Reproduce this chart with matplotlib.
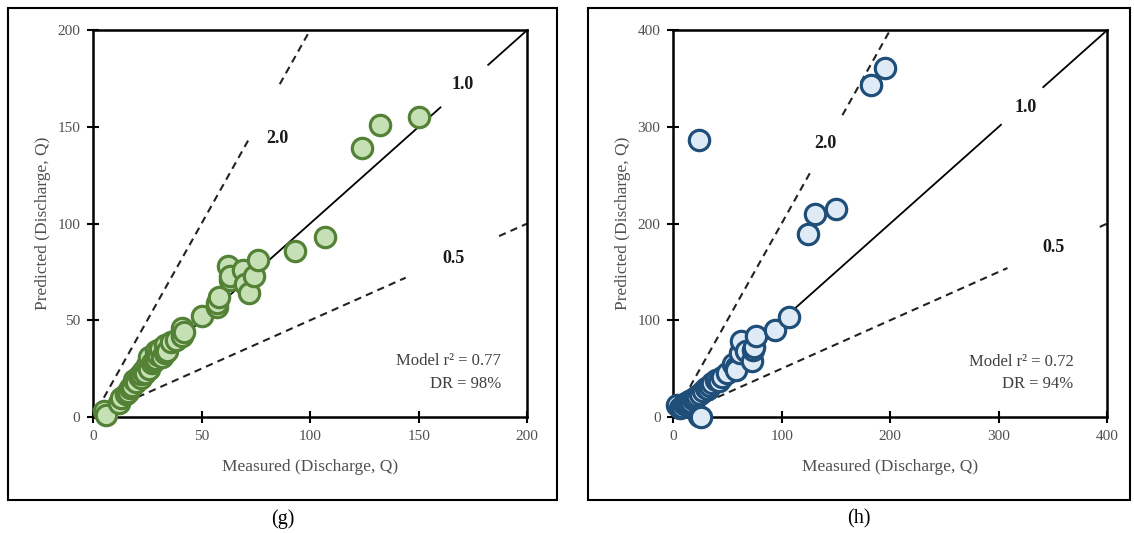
import numpy as np
import matplotlib
matplotlib.use("Agg")
import matplotlib.pyplot as plt
from matplotlib.patches import Rectangle

plt.rcParams['font.family'] = ['Liberation Serif', 'DejaVu Serif']

# panel (g) - measured vs predicted discharge
g_meas = [5, 6, 12, 13, 15, 16, 17, 18, 19, 20, 21, 22, 22, 23, 24, 25, 26, 26, 27, 28,
          29, 29, 30, 31, 32, 33, 33, 34, 36, 38, 41, 41, 42, 50, 57, 57, 58, 62, 63, 63,
          69, 70, 72, 74, 76, 93, 107, 124, 132, 150]
g_pred = [3, 1, 7, 10, 12, 13, 15, 16, 19, 18, 21, 20, 22, 24, 23, 27, 25, 31, 28, 29,
          30, 34, 32, 35, 31, 33, 37, 34, 39, 40, 46, 42, 44, 52, 57, 59, 62, 78, 71, 73,
          76, 69, 64, 73, 81, 86, 93, 139, 151, 155]

# panel (h)
h_meas = [4, 6, 8, 10, 12, 14, 15, 17, 18, 20, 22, 24, 24, 25, 26, 28, 30, 32, 34, 36,
          40, 42, 45, 50, 55, 58, 58, 62, 63, 67, 73, 74, 75, 76, 94, 107, 124, 131, 150,
          182, 195]
h_pred = [12, 9, 10, 13, 14, 15, 17, 16, 19, 20, 22, 286, 1, 24, 0, 27, 30, 29, 32, 35,
          38, 37, 41, 45, 55, 52, 49, 66, 79, 68, 58, 69, 72, 84, 90, 103, 189, 210, 215,
          343, 361]

panels = [
    dict(x=g_meas, y=g_pred, lim=200, ticks=[0, 50, 100, 150, 200],
         face='#c5e0b4', edge='#538135', r2='0.77', dr='98%', cap='(g)',
         one=[(0, 160), (182, 200)], two=[(5, 71.5), (86, 100)], half=[(10, 144), (187, 200)],
         lab_one=(170, 172), lab_two=(85, 144), lab_half=(166, 82), txt=(188, 29, 17)),
    dict(x=h_meas, y=h_pred, lim=400, ticks=[0, 100, 200, 300, 400],
         face='#deebf7', edge='#1f4e79', r2='0.72', dr='94%', cap='(h)',
         one=[(0, 302), (341, 400)], two=[(10, 126), (156, 200)], half=[(20, 308), (393, 400)],
         lab_one=(325, 320), lab_two=(140, 283), lab_half=(350, 175), txt=(369, 57, 34)),
]

fig = plt.figure(figsize=(11.34, 5.33), dpi=100)
lefts = [0.0820, 0.5935]
box_x = [(8, 557), (588, 1130)]
grey = '#505050'

for p, left, bx in zip(panels, lefts, box_x):
    ax = fig.add_axes([left, 0.2176, 0.383, 0.7261])
    ax.set_xlim(0, p['lim'])
    ax.set_ylim(0, p['lim'])

    # ratio lines with gaps for the labels
    for a, b in p['one']:
        ax.plot([a, b], [a, b], color='black', lw=1.3, zorder=1)
    for a, b in p['two']:
        ax.plot([a, b], [2 * a, 2 * b], color='#222222', lw=1.5, ls=(0, (3.5, 2.5)), zorder=1)
    for a, b in p['half']:
        ax.plot([a, b], [0.5 * a, 0.5 * b], color='#222222', lw=1.5, ls=(0, (3.5, 2.5)), zorder=1)

    ax.scatter(p['x'], p['y'], s=215, facecolor=p['face'], edgecolor=p['edge'],
               linewidths=2.3, zorder=3, clip_on=False)

    for key, s in [('lab_one', '1.0'), ('lab_two', '2.0'), ('lab_half', '0.5')]:
        ax.text(*p[key], s, fontsize=13, fontweight='bold', ha='center', va='center',
                color='#1a1a1a')

    tx, ty1, ty2 = p['txt']
    ax.text(tx, ty1, 'Model r\u00b2 = ' + p['r2'], fontsize=12, color='#404040',
            ha='right', va='center')
    ax.text(tx, ty2, 'DR = ' + p['dr'], fontsize=12, color='#404040',
            ha='right', va='center')

    ax.set_xticks(p['ticks'])
    ax.set_yticks(p['ticks'])
    ax.tick_params(direction='inout', length=8, width=1.5, labelsize=11,
                   labelcolor=grey, pad=5)
    for sp in ax.spines.values():
        sp.set_linewidth(1.8)
    ax.set_xlabel('Measured (Discharge, Q)', fontsize=12.5, color=grey, labelpad=12)
    ax.set_ylabel('Predicted (Discharge, Q)', fontsize=12.5, color=grey, labelpad=5)

    # outer frame and caption
    x0, x1 = bx
    fig.add_artist(Rectangle((x0 / 1134, 1 - 500 / 533), (x1 - x0) / 1134, 492 / 533,
                             transform=fig.transFigure, fill=False, lw=1.5,
                             edgecolor='black'))
    fig.text((x0 + x1) / 2 / 1134, 1 - 519 / 533, p['cap'], fontsize=14.5,
             ha='center', va='center')

fig.savefig('out.png', dpi=100)
